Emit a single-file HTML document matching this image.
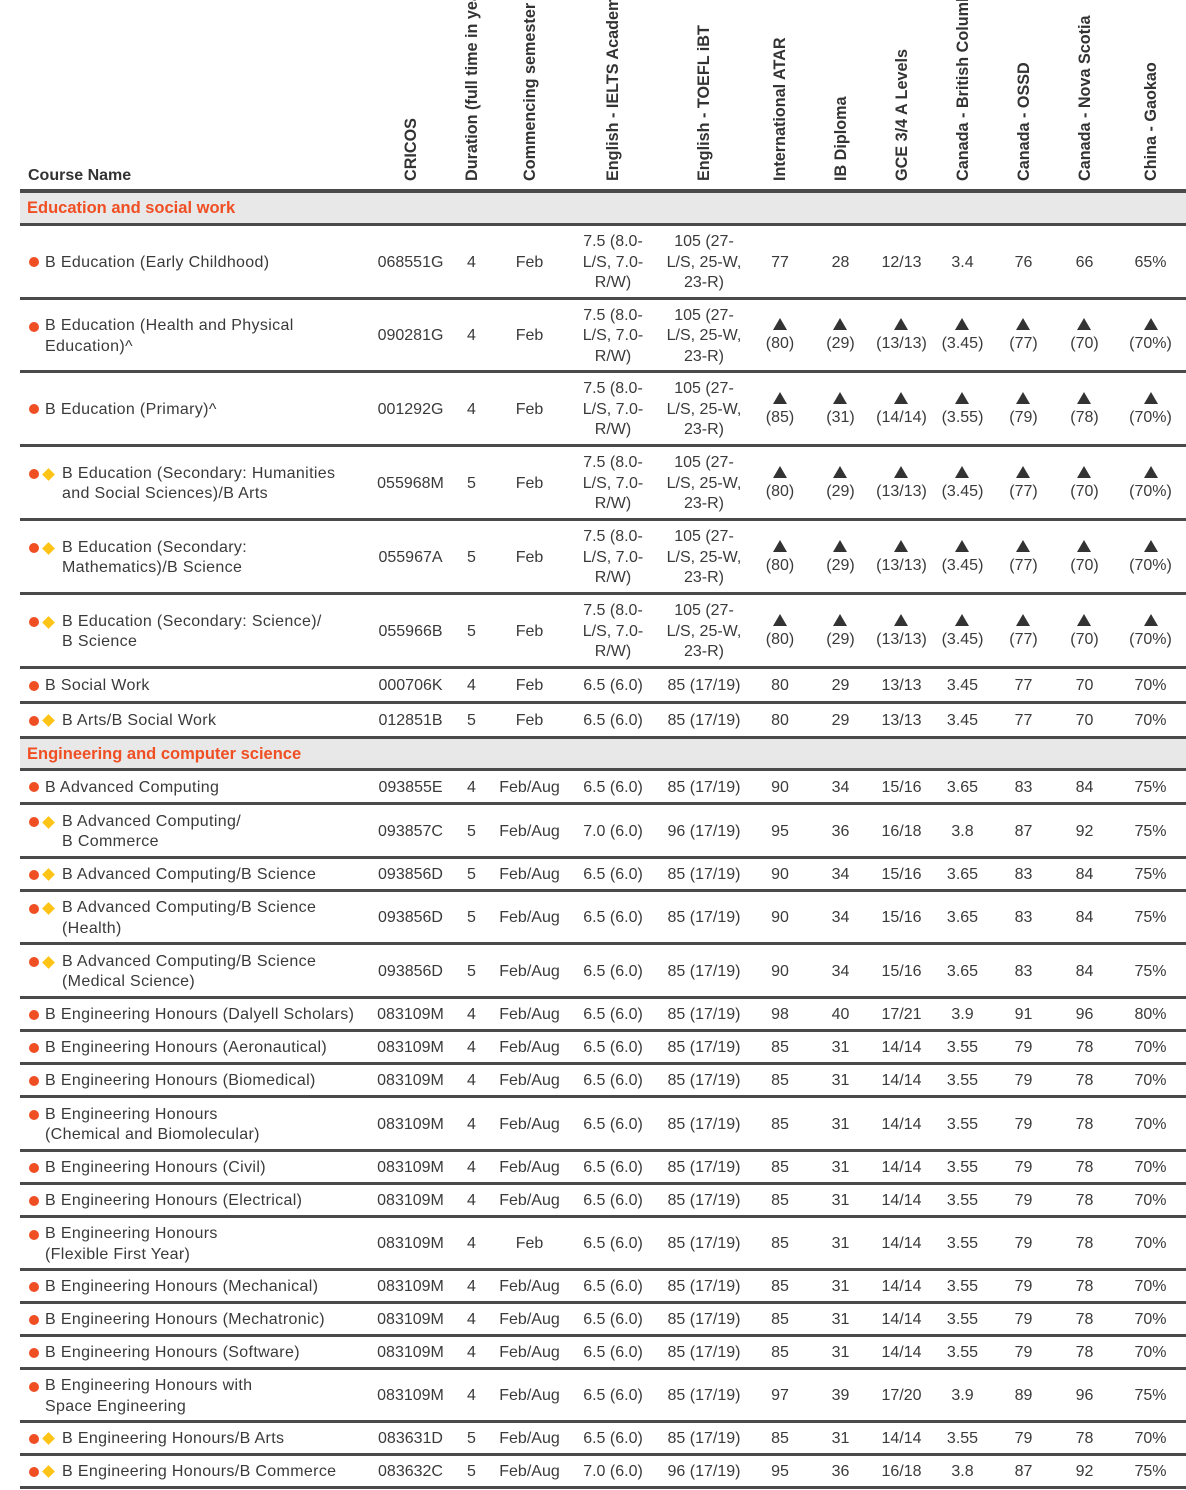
<!DOCTYPE html>
<html><head><meta charset="utf-8"><style>
html,body{margin:0;padding:0;background:#fff;}
body{width:1186px;height:1490px;position:relative;overflow:hidden;font-family:"Liberation Sans",sans-serif;color:#3a3a3a;}
.hd{position:absolute;bottom:1309px;transform-origin:0 100%;transform:rotate(-90deg);white-space:nowrap;font-weight:bold;font-size:16.2px;color:#333;}
.line{position:absolute;left:20px;width:1166px;height:3px;background:#4a4a4a;}
.sec{position:absolute;left:20px;width:1166px;background:#e8e8e8;}
.sect{position:absolute;left:27px;font-weight:bold;font-size:16.5px;color:#f04e23;}
.cell{position:absolute;display:flex;align-items:center;justify-content:center;text-align:center;font-size:16px;line-height:20.5px;}
.name{justify-content:flex-start;text-align:left;letter-spacing:0.35px;}
.dot{position:absolute;width:10px;height:10px;border-radius:50%;background:#f04e23;}
.dia{position:absolute;width:9px;height:9px;background:#fdc316;transform:rotate(45deg);}
.tri{display:block;width:0;height:0;margin:0 auto 4px;border-left:7px solid transparent;border-right:7px solid transparent;border-bottom:12px solid #333;}
</style></head><body>
<div class="hd" style="left:28px;transform:none;bottom:1305px;font-size:16px">Course Name</div>
<div id="root"></div>
<script>
const headers=["CRICOS","Duration (full time in years)","Commencing semester","English - IELTS Academic","English - TOEFL iBT","International ATAR","IB Diploma","GCE 3/4 A Levels","Canada - British Columbia","Canada - OSSD","Canada - Nova Scotia","China - Gaokao"];
const colEdges=[20,369,452,491,568,658,750,810,871,932,993,1054,1115,1186];
const sections=[{title:"Education and social work",top:192,bottom:224},{title:"Engineering and computer science",top:738,bottom:769}];
const E75="7.5 (8.0-<br>L/S, 7.0-<br>R/W)", T105="105 (27-<br>L/S, 25-W,<br>23-R)";
const rows=[
["B Education (Early Childhood)","c","068551G","4","Feb",E75,T105,["77","28","12/13","3.4","76","66","65%"],0,224,298],
["B Education (Health and Physical<br>Education)^","c","090281G","4","Feb",E75,T105,["80","29","13/13","3.45","77","70","70%"],1,298,371],
["B Education (Primary)^","c","001292G","4","Feb",E75,T105,["85","31","14/14","3.55","79","78","70%"],1,371,445],
["B Education (Secondary: Humanities<br>and Social Sciences)/B Arts","cd","055968M","5","Feb",E75,T105,["80","29","13/13","3.45","77","70","70%"],1,445,519],
["B Education (Secondary:<br>Mathematics)/B Science","cd","055967A","5","Feb",E75,T105,["80","29","13/13","3.45","77","70","70%"],1,519,593],
["B Education (Secondary: Science)/<br>B Science","cd","055966B","5","Feb",E75,T105,["80","29","13/13","3.45","77","70","70%"],1,593,667],
["B Social Work","c","000706K","4","Feb","6.5 (6.0)","85 (17/19)",["80","29","13/13","3.45","77","70","70%"],0,667,702],
["B Arts/B Social Work","cd","012851B","5","Feb","6.5 (6.0)","85 (17/19)",["80","29","13/13","3.45","77","70","70%"],0,702,737],
["B Advanced Computing","c","093855E","4","Feb/Aug","6.5 (6.0)","85 (17/19)",["90","34","15/16","3.65","83","84","75%"],0,769,803],
["B Advanced Computing/<br>B Commerce","cd","093857C","5","Feb/Aug","7.0 (6.0)","96 (17/19)",["95","36","16/18","3.8","87","92","75%"],0,803,857],
["B Advanced Computing/B Science","cd","093856D","5","Feb/Aug","6.5 (6.0)","85 (17/19)",["90","34","15/16","3.65","83","84","75%"],0,857,890],
["B Advanced Computing/B Science<br>(Health)","cd","093856D","5","Feb/Aug","6.5 (6.0)","85 (17/19)",["90","34","15/16","3.65","83","84","75%"],0,890,943],
["B Advanced Computing/B Science<br>(Medical Science)","cd","093856D","5","Feb/Aug","6.5 (6.0)","85 (17/19)",["90","34","15/16","3.65","83","84","75%"],0,943,997],
["B Engineering Honours (Dalyell Scholars)","c","083109M","4","Feb/Aug","6.5 (6.0)","85 (17/19)",["98","40","17/21","3.9","91","96","80%"],0,997,1030],
["B Engineering Honours (Aeronautical)","c","083109M","4","Feb/Aug","6.5 (6.0)","85 (17/19)",["85","31","14/14","3.55","79","78","70%"],0,1030,1063],
["B Engineering Honours (Biomedical)","c","083109M","4","Feb/Aug","6.5 (6.0)","85 (17/19)",["85","31","14/14","3.55","79","78","70%"],0,1063,1096],
["B Engineering Honours<br>(Chemical and Biomolecular)","c","083109M","4","Feb/Aug","6.5 (6.0)","85 (17/19)",["85","31","14/14","3.55","79","78","70%"],0,1096,1150],
["B Engineering Honours (Civil)","c","083109M","4","Feb/Aug","6.5 (6.0)","85 (17/19)",["85","31","14/14","3.55","79","78","70%"],0,1150,1183],
["B Engineering Honours (Electrical)","c","083109M","4","Feb/Aug","6.5 (6.0)","85 (17/19)",["85","31","14/14","3.55","79","78","70%"],0,1183,1216],
["B Engineering Honours<br>(Flexible First Year)","c","083109M","4","Feb","6.5 (6.0)","85 (17/19)",["85","31","14/14","3.55","79","78","70%"],0,1216,1269],
["B Engineering Honours (Mechanical)","c","083109M","4","Feb/Aug","6.5 (6.0)","85 (17/19)",["85","31","14/14","3.55","79","78","70%"],0,1269,1302],
["B Engineering Honours (Mechatronic)","c","083109M","4","Feb/Aug","6.5 (6.0)","85 (17/19)",["85","31","14/14","3.55","79","78","70%"],0,1302,1335],
["B Engineering Honours (Software)","c","083109M","4","Feb/Aug","6.5 (6.0)","85 (17/19)",["85","31","14/14","3.55","79","78","70%"],0,1335,1368],
["B Engineering Honours with<br>Space Engineering","c","083109M","4","Feb/Aug","6.5 (6.0)","85 (17/19)",["97","39","17/20","3.9","89","96","75%"],0,1368,1421],
["B Engineering Honours/B Arts","cd","083631D","5","Feb/Aug","6.5 (6.0)","85 (17/19)",["85","31","14/14","3.55","79","78","70%"],0,1421,1454],
["B Engineering Honours/B Commerce","cd","083632C","5","Feb/Aug","7.0 (6.0)","96 (17/19)",["95","36","16/18","3.8","87","92","75%"],0,1454,1487]
];
const root=document.getElementById('root');
function mk(cls,style,html){const d=document.createElement('div');d.className=cls;d.setAttribute('style',style);if(html!==undefined)d.innerHTML=html;root.appendChild(d);return d;}
headers.forEach((h,i)=>{
  const cx=(colEdges[i+1]+colEdges[i+2])/2;
  const d=mk('hd','left:'+(cx+10)+'px;',h);
  
  
});
let l=mk('line','top:189px;');


sections.forEach(s=>{
  const b=mk('sec','top:'+s.top+'px;height:'+(s.bottom-s.top)+'px;');
  
  
  const t=mk('sect','top:'+(s.top+7)+'px;',s.title);
  
  
  const ln=mk('line','top:'+(s.top-2)+'px;');
  
  
  const ln2=mk('line','top:'+(s.bottom-1)+'px;');
  
  
});
rows.forEach(r=>{
  const [name,mark,cr,du,se,ie,to,sc,tri,top,bot]=r;
  const h=bot-top, mid=(top+bot)/2;
  const twoLine=name.indexOf('<br>')>=0;
  const nx=mark==='cd'?62:45;
  const nm=mk('cell name','left:'+nx+'px;top:'+(top+2)+'px;height:'+h+'px;width:330px;',name);
  
  
  const dy=twoLine?mid-13:mid-4;
  const dt=mk('dot','left:29px;top:'+dy+'px;');
  
  
  if(mark==='cd'){const dm=mk('dia','left:44px;top:'+(dy+0.5)+'px;');
    
    }
  const vals=[cr,du,se,ie,to].concat(sc.map(v=>tri?'<span><span class="tri"></span>('+v+')</span>':v));
  vals.forEach((v,i)=>{
    const x0=colEdges[i+1],x1=colEdges[i+2];
    const c=mk('cell','left:'+x0+'px;width:'+(x1-x0)+'px;top:'+(top+2)+'px;height:'+h+'px;',v);
    
    
  });
  const ln=mk('line','top:'+(bot-1)+'px;');
  
  
});
</script>
</body></html>
